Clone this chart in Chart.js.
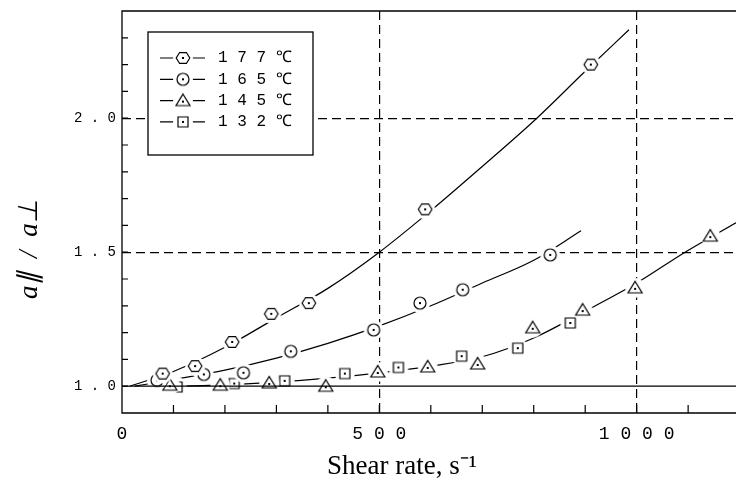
<!DOCTYPE html>
<html>
<head>
<meta charset="utf-8">
<script src="https://cdn.jsdelivr.net/npm/chart.js@4/dist/chart.umd.min.js"></script>
<style>
  html, body { margin: 0; padding: 0; background: #fff; }
  #wrap { width: 736px; height: 478px; }
</style>
</head>
<body>
<div id="wrap"><canvas id="chart" width="736" height="478"></canvas></div>
<script>
// ── DATA ───────────────────────────────────────────────────────────────────────
// measured points, read off the figure (shear rate s^-1, ratio a|| / a_|_)
const x177 = [79, 142, 214, 290, 363, 589, 911];
const y177 = [1.047, 1.075, 1.165, 1.27, 1.31, 1.66, 2.20];
const x165 = [68, 159, 236, 328, 489, 579, 662, 832];
const y165 = [1.022, 1.044, 1.05, 1.13, 1.21, 1.31, 1.36, 1.49];
const x145 = [93, 191, 286, 396, 497, 594, 691, 798, 895, 997, 1143];
const y145 = [1.004, 1.004, 1.012, 1.0, 1.053, 1.072, 1.083, 1.218, 1.284, 1.367, 1.56];
const x132 = [107, 218, 316, 433, 537, 660, 769, 871];
const y132 = [0.997, 1.01, 1.02, 1.047, 1.07, 1.112, 1.142, 1.236];

// hand-drawn trend curves
const fitX177 = [15, 100, 200, 300, 400, 500, 600, 700, 806, 900, 985];
const fitY177 = [1.0, 1.055, 1.145, 1.255, 1.365, 1.5, 1.655, 1.82, 2.0, 2.175, 2.33];
const fitX165 = [25, 100, 200, 300, 400, 500, 600, 700, 800, 892];
const fitY165 = [1.0, 1.025, 1.06, 1.105, 1.16, 1.225, 1.3, 1.385, 1.47, 1.58];
const fitXlow = [100, 200, 300, 400, 500, 600, 700, 800, 900, 1000, 1094, 1193];
const fitYlow = [1.0, 1.005, 1.015, 1.03, 1.05, 1.075, 1.11, 1.18, 1.28, 1.385, 1.5, 1.61];

const seriesLabels = ['1 7 7 ℃', '1 6 5 ℃', '1 4 5 ℃', '1 3 2 ℃'];
const xTickLabels = { 0: '0', 500: '5 0 0', 1000: '1 0 0 0' };
const yTickLabels = { '1.0': '1 . 0', '1.5': '1 . 5', '2.0': '2 . 0' };

// ── MARKERS ────────────────────────────────────────────────────────────────────
// white halo around each symbol leaves the small gaps seen in the curves
function marker(kind) {
  const s = 24, m = s / 2;
  const c = document.createElement('canvas');
  c.width = c.height = s;
  const g = c.getContext('2d');
  g.fillStyle = '#fff';
  g.beginPath(); g.arc(m, m, 10, 0, 2 * Math.PI); g.fill();
  g.strokeStyle = '#000'; g.lineWidth = 1.2;
  g.beginPath();
  if (kind === 'hex') {
    for (let i = 0; i < 6; i++) {
      const a = i * Math.PI / 3;
      const px = m + 6.8 * Math.cos(a), py = m + 6.3 * Math.sin(a);
      i ? g.lineTo(px, py) : g.moveTo(px, py);
    }
    g.closePath();
  } else if (kind === 'circle') {
    g.arc(m, m, 6, 0, 2 * Math.PI);
  } else if (kind === 'tri') {
    g.moveTo(m, m - 6.5); g.lineTo(m + 7, m + 5); g.lineTo(m - 7, m + 5); g.closePath();
  } else {
    g.rect(m - 5, m - 5, 10, 10);
  }
  g.stroke();
  g.fillStyle = '#000';
  g.fillRect(m - 1, m - (kind === 'tri' ? 0 : 1), 2, 2);
  return c;
}
const markerStyles = [marker('hex'), marker('circle'), marker('tri'), marker('rect')];

const pts = (xs, ys) => xs.map((x, i) => ({ x, y: ys[i] }));

// ── PLUGINS ────────────────────────────────────────────────────────────────────
const frame = {
  id: 'frame',
  afterDatasetsDraw(chart) {
    const { ctx, chartArea: a, scales: { x, y } } = chart;
    ctx.save();
    ctx.strokeStyle = '#000';
    ctx.lineWidth = 1.3;
    ctx.beginPath();
    ctx.moveTo(a.right, a.top); ctx.lineTo(a.left, a.top);
    ctx.lineTo(a.left, a.bottom); ctx.lineTo(a.right, a.bottom);
    const y1 = y.getPixelForValue(1.0);
    ctx.moveTo(a.left, y1); ctx.lineTo(a.right, y1);
    ctx.stroke();
    // inward tick marks
    ctx.lineWidth = 1.2;
    ctx.beginPath();
    y.ticks.forEach(t => {
      const p = y.getPixelForValue(t.value);
      if (p > a.top + 1 && p < a.bottom - 1) { ctx.moveTo(a.left, p); ctx.lineTo(a.left + 6, p); }
    });
    x.ticks.forEach(t => {
      const p = x.getPixelForValue(t.value);
      if (p > a.left + 1 && p < a.right - 3) { ctx.moveTo(p, a.bottom); ctx.lineTo(p, a.bottom - 8); }
    });
    ctx.stroke();
    ctx.restore();
  }
};

const boxLegend = {
  id: 'boxLegend',
  afterDraw(chart) {
    const { ctx, chartArea: a } = chart;
    const bx = a.left + 26, by = a.top + 21, bw = 165, bh = 123;
    ctx.save();
    ctx.fillStyle = '#fff';
    ctx.fillRect(bx, by, bw, bh);
    ctx.strokeStyle = '#000';
    ctx.lineWidth = 1.3;
    ctx.strokeRect(bx, by, bw, bh);
    ctx.font = '16px "Liberation Mono"';
    ctx.textBaseline = 'middle';
    chart.data.datasets.filter(d => d.showLine === false).forEach((d, i) => {
      const ry = by + 26 + i * 21.3;
      ctx.lineWidth = 1.2;
      ctx.beginPath(); ctx.moveTo(bx + 12, ry); ctx.lineTo(bx + 57, ry); ctx.stroke();
      const img = d.pointStyle;
      ctx.drawImage(img, bx + 35 - img.width / 2, ry - img.height / 2);
      ctx.fillStyle = '#000';
      ctx.fillText(d.label, bx + 70, ry);
    });
    ctx.restore();
  }
};

// ── CHART ──────────────────────────────────────────────────────────────────────
const near = (v, t) => Math.abs(v - t) < 1e-6;
const markerSet = (i, xs, ys) => ({
  label: seriesLabels[i], data: pts(xs, ys), showLine: false,
  pointStyle: markerStyles[i], pointRadius: 8, pointHoverRadius: 8
});
const curveSet = (xs, ys) => ({
  label: '', data: pts(xs, ys), showLine: true, pointRadius: 0, pointHoverRadius: 0,
  borderColor: '#000', borderWidth: 1.2, cubicInterpolationMode: 'monotone', fill: false
});

Chart.defaults.color = '#000';

new Chart(document.getElementById('chart'), {
  type: 'scatter',
  data: {
    datasets: [
      markerSet(0, x177, y177),
      markerSet(1, x165, y165),
      markerSet(2, x145, y145),
      markerSet(3, x132, y132),
      curveSet(fitX177, fitY177),
      curveSet(fitX165, fitY165),
      curveSet(fitXlow, fitYlow)
    ]
  },
  options: {
    responsive: false, animation: false, devicePixelRatio: 1,
    layout: { autoPadding: false, padding: { top: 11, right: 0, bottom: 0, left: 0 } },
    plugins: { legend: { display: false }, tooltip: { enabled: false } },
    scales: {
      x: {
        type: 'linear', min: 0, max: 1193,
        afterFit: s => { s.height = 65; s.paddingLeft = 0; s.paddingRight = 0; },
        afterBuildTicks: s => {
          const t = [];
          for (let v = 0; v <= 1100; v += 100) t.push({ value: v });
          s.ticks = t;
        },
        ticks: {
          autoSkip: false, maxRotation: 0, padding: 10,
          font: { family: 'Liberation Mono', size: 18 },
          callback: v => xTickLabels[Math.round(v)] || ''
        },
        grid: {
          drawTicks: false, lineWidth: 1.2,
          color: c => (c.tick && (near(c.tick.value, 500) || near(c.tick.value, 1000))) ? '#000' : 'rgba(0,0,0,0)'
        },
        border: { display: false, dash: [9, 5] },
        title: {
          display: true, text: 'Shear rate, s⁻¹' + ' '.repeat(8),
          font: { family: 'Liberation Serif', size: 27, lineHeight: 0.8 },
          padding: { top: 0, bottom: 0 }
        }
      },
      y: {
        type: 'linear', min: 0.9, max: 2.4,
        afterFit: s => { s.width = 122; s.paddingTop = 0; s.paddingBottom = 0; },
        ticks: {
          stepSize: 0.1, autoSkip: false, padding: 6, maxTicksLimit: 30,
          font: { family: 'Liberation Mono', size: 14 },
          callback: v => yTickLabels[v.toFixed(1)] || ''
        },
        grid: {
          drawTicks: false, lineWidth: 1.2,
          color: c => (c.tick && (near(c.tick.value, 1.5) || near(c.tick.value, 2.0))) ? '#000' : 'rgba(0,0,0,0)'
        },
        border: { display: false, dash: [9, 5] },
        title: {
          display: true, text: 'a∥  /  a⊥' + ' '.repeat(11),
          font: { family: 'Liberation Serif', size: 27, style: 'italic', lineHeight: 1 },
          padding: { top: 16, bottom: 0 }
        }
      }
    }
  },
  plugins: [frame, boxLegend]
});
</script>
</body>
</html>
